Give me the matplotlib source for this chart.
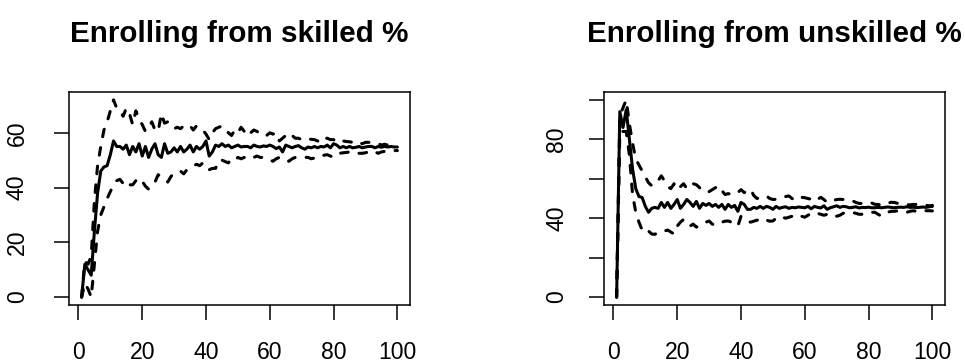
import numpy as np
import matplotlib
matplotlib.use("Agg")
import matplotlib.pyplot as plt

plt.rcParams['font.family'] = ['Liberation Sans', 'DejaVu Sans']
plt.rcParams['lines.scale_dashes'] = False

# period index
t = np.arange(1, 101)

# --- Enrolling from skilled % ---
skilled_mean = [0, 12, 10, 8, 24, 38, 46, 47.5, 48, 52,
                57, 55, 55, 54, 55.5, 52, 55, 53, 56, 51.5,
                55, 51, 54, 56, 52, 51, 56, 52.5, 53, 54.5,
                53, 55, 53, 54, 55.5, 53, 55, 54, 55, 57,
                51.5, 53, 55.5, 55, 56, 55, 55.5, 54.5, 55, 55.5,
                54.8, 55, 55, 54.5, 55.5, 55, 54.8, 55.2, 55, 55.5,
                55, 54.2, 54.8, 53, 55.5, 55, 54.5, 55, 55.3, 54.5,
                54, 54.8, 54.5, 55, 54.5, 55, 54.8, 55.5, 54.5, 56,
                55.5, 54.5, 55, 54.5, 55, 54.5, 54.7, 55, 54.5, 54.8,
                55, 55, 54.5, 55, 54.7, 55, 54.8, 55, 54.8, 54.8]
skilled_upper = [0, 13, 12, 15, 35, 48, 55, 61, 64, 68,
                 72, 69, 68, 66, 69, 67, 63, 68, 65, 63,
                 60.5, 62, 64, 61, 60.5, 67, 63.5, 64, 63, 61.5,
                 62, 61.5, 62.5, 62, 62.5, 61, 62.5, 62, 61, 59.5,
                 57.5, 60, 61.5, 62, 62.5, 61.5, 60, 59, 61, 60,
                 62, 60.5, 58.8, 60, 61, 60.5, 59.5, 58.8, 59, 60,
                 59.5, 60, 57, 58, 59, 60, 59, 58, 58, 57.5,
                 58, 57.8, 57.6, 57.5, 57, 56.5, 58, 58, 57.5, 57.5,
                 56.5, 57, 57, 56.8, 56.7, 56.5, 56, 56.5, 56, 56.5,
                 56.5, 56.3, 56.3, 56, 55.5, 55.8, 55.5, 56, 56, 56]
skilled_lower = [0, 5, 3, 0, 12, 24, 30, 33, 36, 38.5,
                 41, 42.5, 43, 41.5, 40, 41, 41, 42.5, 43.5, 42.3,
                 40.5, 39.4, 41, 42, 44.7, 43.8, 42.8, 42, 44, 45.3,
                 45.5, 46, 45, 46.5, 47.2, 47.8, 48.5, 48, 49, 48.5,
                 46.5, 47, 47, 50, 50, 49.5, 49, 50.5, 50, 51,
                 50.5, 51, 51, 50.4, 51, 51.5, 51, 51, 50.5, 50,
                 49.6, 50.5, 51, 50, 49.8, 49.6, 50.5, 51, 51, 51,
                 51, 51, 50.5, 50.8, 51.5, 51.4, 51.8, 52, 51.5, 51,
                 51.5, 52.5, 52.7, 52.8, 53, 53, 52.5, 52.5, 52.5, 52.7,
                 53, 53.5, 53, 52.5, 53, 53.2, 53.5, 53.5, 53.5, 53.5]

# --- Enrolling from unskilled % ---
unskilled_mean = [0, 94, 86, 95, 80, 65, 55, 51, 50.5, 46,
                  43, 45, 45.5, 45, 48, 45.5, 48, 45, 47, 49.5,
                  45, 47, 49.5, 48, 46, 48.5, 45, 47.5, 46.5, 47.5,
                  46, 47, 45.5, 47, 44.5, 47, 45.5, 46.5, 43.5, 48,
                  47, 44.5, 44.5, 45.5, 45, 46, 45, 46, 45.5, 44.5,
                  46, 45, 45.5, 45.8, 45, 45.5, 45.3, 45.7, 45.5, 45.3,
                  46, 44.8, 46, 45.5, 45.2, 46.3, 44.5, 45.3, 45.8, 46.3,
                  45.5, 46, 45.8, 45.3, 45.5, 45.8, 45.2, 45.5, 45.4, 45.6,
                  45.3, 45.3, 45.5, 45.3, 45.5, 45.7, 45.5, 45.3, 45.5, 45.6,
                  45.5, 45.8, 45.5, 45.6, 45.4, 45.5, 45.7, 45.5, 45.8, 46]
unskilled_upper = [0, 92, 96, 100, 88, 78, 70, 67, 64, 61,
                   58, 56.5, 57, 59, 61.5, 59, 56, 55, 57.5, 54.5,
                   56, 57.5, 55, 55.5, 57.5, 57, 55.5, 54, 53, 53.5,
                   54.5, 55.5, 56.5, 54, 52, 52.5, 52, 53, 53, 54.5,
                   53, 54, 54.7, 51.5, 50, 50.5, 51, 51.3, 50, 49.5,
                   49.6, 50, 50.5, 51, 51.3, 50, 49, 49.8, 50.6, 50.4,
                   50, 49.6, 48.5, 49.5, 50.6, 49.5, 48, 48.5, 49, 49.5,
                   49.6, 49.5, 49, 48.8, 48.8, 48, 47.5, 47.5, 48, 47.8,
                   47.7, 47, 47, 46.5, 47, 47.5, 48.1, 48, 47.6, 47.4,
                   47, 46.8, 46.8, 47, 47, 46.8, 46.7, 46.6, 46.3, 46.5]
unskilled_lower = [0, 84, 84, 84, 72, 52, 43, 38, 34, 32.5,
                   33.5, 32, 31.8, 33, 33.5, 33.5, 34, 33, 32, 36,
                   38, 39.4, 38, 36, 37, 35.5, 36, 37, 38, 38.6,
                   37, 36.5, 37.5, 38, 38.5, 38.6, 38, 37, 36, 41,
                   39.5, 38.5, 38, 38.5, 39, 39.4, 40, 39, 38.5, 38.6,
                   40, 41, 40.5, 40, 40.5, 41, 41.5, 42, 41, 40.5,
                   41.5, 42.5, 43, 42.5, 42, 41.5, 42, 42.5, 42, 41,
                   41.5, 42.5, 43, 43, 42.9, 42.5, 42, 42, 42.5, 43,
                   43, 43, 42, 41, 42, 43, 43.5, 43.5, 43.7, 43.3,
                   42.9, 43, 43.5, 43.8, 43.5, 43.3, 43.5, 43.8, 43.8, 43.7]

panels = [
    ("Enrolling from skilled %", skilled_mean, skilled_upper, skilled_lower,
     [0, 20, 40, 60], ["0", "20", "40", "60"], 18),
    ("Enrolling from unskilled %", unskilled_mean, unskilled_upper, unskilled_lower,
     [0, 20, 40, 60, 80, 100], ["0", "", "40", "", "80", ""], 15),
]

fig = plt.figure(figsize=(9.65, 3.64), dpi=100)
axes = [fig.add_axes([69/965, 59/364, 341/965, 213/364]),
        fig.add_axes([604/965, 59/364, 341/965, 213/364])]

dash = (0, (5.5, 8))
for ax, (title, m, up, lo, yt, ylab, ypad) in zip(axes, panels):
    ax.plot(t, m, color='black', lw=2.2, solid_capstyle='round', solid_joinstyle='round')
    ax.plot(t, up, color='black', lw=2.2, linestyle=dash, dash_capstyle='round', dash_joinstyle='round')
    ax.plot(t, lo, color='black', lw=2.2, linestyle=dash, dash_capstyle='round', dash_joinstyle='round')

    # R style 4% padding
    ymin = min(min(m), min(up), min(lo))
    ymax = max(max(m), max(up), max(lo))
    r = ymax - ymin
    ax.set_ylim(ymin - 0.04 * r, ymax + 0.04 * r)
    ax.set_xlim(1 - 0.04 * 99, 100 + 0.04 * 99)

    ax.set_xticks([0, 20, 40, 60, 80, 100])
    ax.set_yticks(yt)
    ax.set_yticklabels(ylab, rotation=90, va='center')
    ax.tick_params(length=10.8, width=1.1, labelsize=16.6, pad=15, color='black')
    ax.tick_params(axis='y', pad=ypad)
    for s in ax.spines.values():
        s.set_linewidth(1.1)
    ax.set_title(title, fontsize=21.3, fontweight='bold', pad=36)

fig.savefig("out.png", dpi=100)
